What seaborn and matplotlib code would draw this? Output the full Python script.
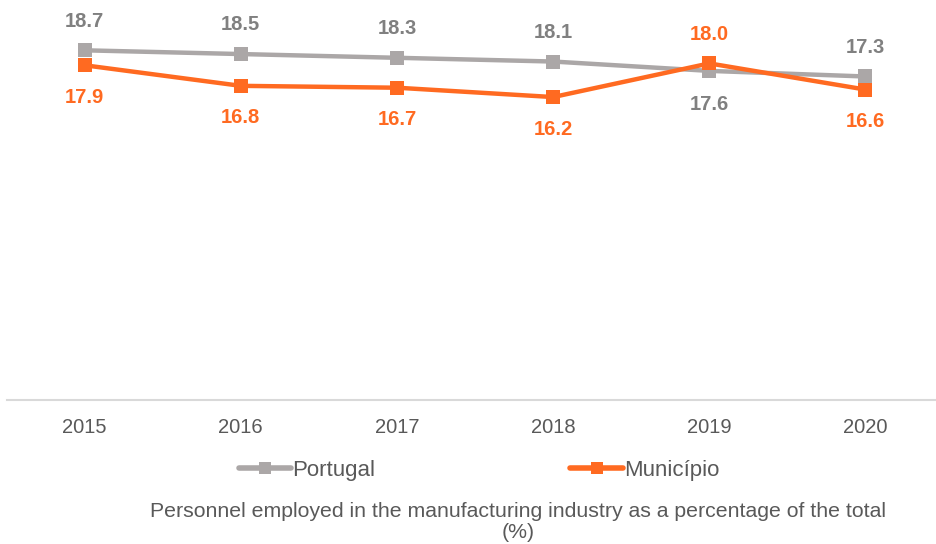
import matplotlib
matplotlib.use("Agg")
import matplotlib.pyplot as plt
import seaborn as sns
import pandas as pd

years = ["2015", "2016", "2017", "2018", "2019", "2020"]
portugal = [18.7, 18.5, 18.3, 18.1, 17.6, 17.3]
municipio = [17.9, 16.8, 16.7, 16.2, 18.0, 16.6]

gray = "#ABA7A7"
orange = "#FF6A21"
text_gray = "#595959"

sns.set_style("white")
plt.rcParams["font.family"] = ["Liberation Sans", "DejaVu Sans"]

df = pd.DataFrame({
    "year": years * 2,
    "value": portugal + municipio,
    "serie": ["Portugal"] * 6 + ["Município"] * 6,
})

fig = plt.figure(figsize=(9.37, 5.44), dpi=100)
ax = fig.add_axes([0.007, 0.2647, 1.0, 374 / 544])

sns.lineplot(data=df, x="year", y="value", hue="serie",
             palette={"Portugal": gray, "Município": orange},
             marker="s", markersize=10, markeredgewidth=0, linewidth=3.2,
             ax=ax, legend=False)

ax.set_xlim(-0.5, 5.5)
ax.set_ylim(0, 20)
ax.set_yticks([])
ax.set_xlabel("")
ax.set_ylabel("")
for s in ["top", "left", "right"]:
    ax.spines[s].set_visible(False)
ax.spines["bottom"].set_color("#D9D9D9")
ax.spines["bottom"].set_linewidth(1.5)
ax.tick_params(axis="x", length=0, labelsize=14.5, labelcolor=text_gray, pad=13)

# data labels
for i, v in enumerate(portugal):
    off = 21 if portugal[i] >= municipio[i] else -24
    ax.annotate(f"{v:.1f}", (i, v), xytext=(0, off), textcoords="offset points",
                ha="center", va="center", fontsize=14.5, fontweight="bold", color="#808080")
for i, v in enumerate(municipio):
    off = -23 if municipio[i] < portugal[i] else 21
    ax.annotate(f"{v:.1f}", (i, v), xytext=(0, off), textcoords="offset points",
                ha="center", va="center", fontsize=14.5, fontweight="bold", color=orange)

handles = [
    plt.Line2D([], [], color=gray, lw=4, marker="s", markersize=8, markeredgewidth=0),
    plt.Line2D([], [], color=orange, lw=4, marker="s", markersize=8, markeredgewidth=0),
]
leg = fig.legend(handles, ["Portugal", "Município"], loc="center",
                 bbox_to_anchor=(0.511, 0.135), ncol=2, frameon=False,
                 fontsize=16, handlelength=2.35, handletextpad=0.05,
                 columnspacing=8.8)
for t in leg.get_texts():
    t.set_color(text_gray)

fig.text(0.553, 0.041,
         "Personnel employed in the manufacturing industry as a percentage of the total\n(%)",
         ha="center", va="center", fontsize=15.3, color=text_gray, linespacing=1.12)

fig.savefig("out.png", dpi=100)
